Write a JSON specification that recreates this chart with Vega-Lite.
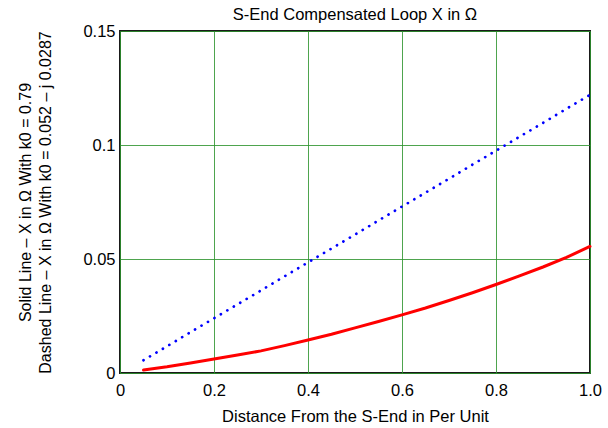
{
  "$schema": "https://vega.github.io/schema/vega-lite/v6.json",
  "width": 470,
  "height": 342,
  "autosize": {"type": "none"},
  "padding": {"left": 120, "top": 31, "right": 18, "bottom": 55},
  "background": "white",
  "config": {
    "font": "Liberation Sans",
    "view": {"stroke": "#1a1a1a", "strokeWidth": 2},
    "axis": {
      "labelFont": "Liberation Sans",
      "titleFont": "Liberation Sans",
      "labelColor": "#000",
      "titleColor": "#000",
      "labelFontSize": 16.5,
      "titleFontSize": 16.5,
      "titleFontWeight": "normal",
      "labelFlush": false,
      "domain": false,
      "ticks": false,
      "gridColor": "#2f942f",
      "gridOpacity": 0.85,
      "gridWidth": 1
    },
    "title": {"font": "Liberation Sans", "fontSize": 16.5, "fontWeight": "normal", "color": "#000"}
  },
  "title": {"text": "S-End Compensated Loop X in Ω", "offset": 8, "dy": 8},
  "datasets": {
    "solid": [
      {"d": 0.05, "x": 0.0013},
      {"d": 0.1, "x": 0.0027},
      {"d": 0.15, "x": 0.0044},
      {"d": 0.2, "x": 0.0061},
      {"d": 0.25, "x": 0.0079},
      {"d": 0.3, "x": 0.0097},
      {"d": 0.35, "x": 0.0120},
      {"d": 0.4, "x": 0.0145},
      {"d": 0.45, "x": 0.0170},
      {"d": 0.5, "x": 0.0198},
      {"d": 0.55, "x": 0.0226},
      {"d": 0.6, "x": 0.0255},
      {"d": 0.65, "x": 0.0285},
      {"d": 0.7, "x": 0.0318},
      {"d": 0.75, "x": 0.0352},
      {"d": 0.8, "x": 0.0388},
      {"d": 0.85, "x": 0.0426},
      {"d": 0.9, "x": 0.0465},
      {"d": 0.95, "x": 0.0507},
      {"d": 1.0, "x": 0.0555}
    ],
    "dashed": [
      {"d": 0.05, "x": 0.0056},
      {"d": 0.1, "x": 0.0117},
      {"d": 0.15, "x": 0.0179},
      {"d": 0.2, "x": 0.0240},
      {"d": 0.25, "x": 0.0301},
      {"d": 0.3, "x": 0.0362},
      {"d": 0.35, "x": 0.0424},
      {"d": 0.4, "x": 0.0485},
      {"d": 0.45, "x": 0.0546},
      {"d": 0.5, "x": 0.0607},
      {"d": 0.55, "x": 0.0669},
      {"d": 0.6, "x": 0.0730},
      {"d": 0.65, "x": 0.0791},
      {"d": 0.7, "x": 0.0852},
      {"d": 0.75, "x": 0.0914},
      {"d": 0.8, "x": 0.0975},
      {"d": 0.85, "x": 0.1036},
      {"d": 0.9, "x": 0.1097},
      {"d": 0.95, "x": 0.1159},
      {"d": 1.0, "x": 0.1220}
    ]
  },
  "encoding": {
    "x": {
      "field": "d",
      "type": "quantitative",
      "scale": {"domain": [0, 1], "nice": false},
      "axis": {
        "values": [0, 0.2, 0.4, 0.6, 0.8, 1.0],
        "labelExpr": "datum.value == 0 ? '0' : format(datum.value, '.1f')",
        "labelPadding": 9,
        "title": "Distance From the S-End in Per Unit",
        "titlePadding": 10
      }
    },
    "y": {
      "field": "x",
      "type": "quantitative",
      "scale": {"domain": [0, 0.15], "nice": false},
      "axis": {
        "values": [0, 0.05, 0.1, 0.15],
        "labelExpr": "datum.value == 0 ? '0' : format(datum.value, '~g')",
        "labelPadding": 5,
        "title": ["Solid Line – X in Ω With k0 = 0.79", "Dashed Line – X in Ω With k0 = 0.052 – j 0.0287"],
        "titleFontSize": 16,
        "titleLineHeight": 20,
        "titlePadding": 29
      }
    }
  },
  "layer": [
    {
      "data": {"name": "dashed"},
      "mark": {"type": "line", "color": "#0000ff", "strokeWidth": 2.7, "strokeDash": [0.1, 7.4], "strokeCap": "round"}
    },
    {
      "data": {"name": "solid"},
      "mark": {"type": "line", "color": "#ff0000", "strokeWidth": 3, "strokeCap": "round"}
    }
  ]
}
